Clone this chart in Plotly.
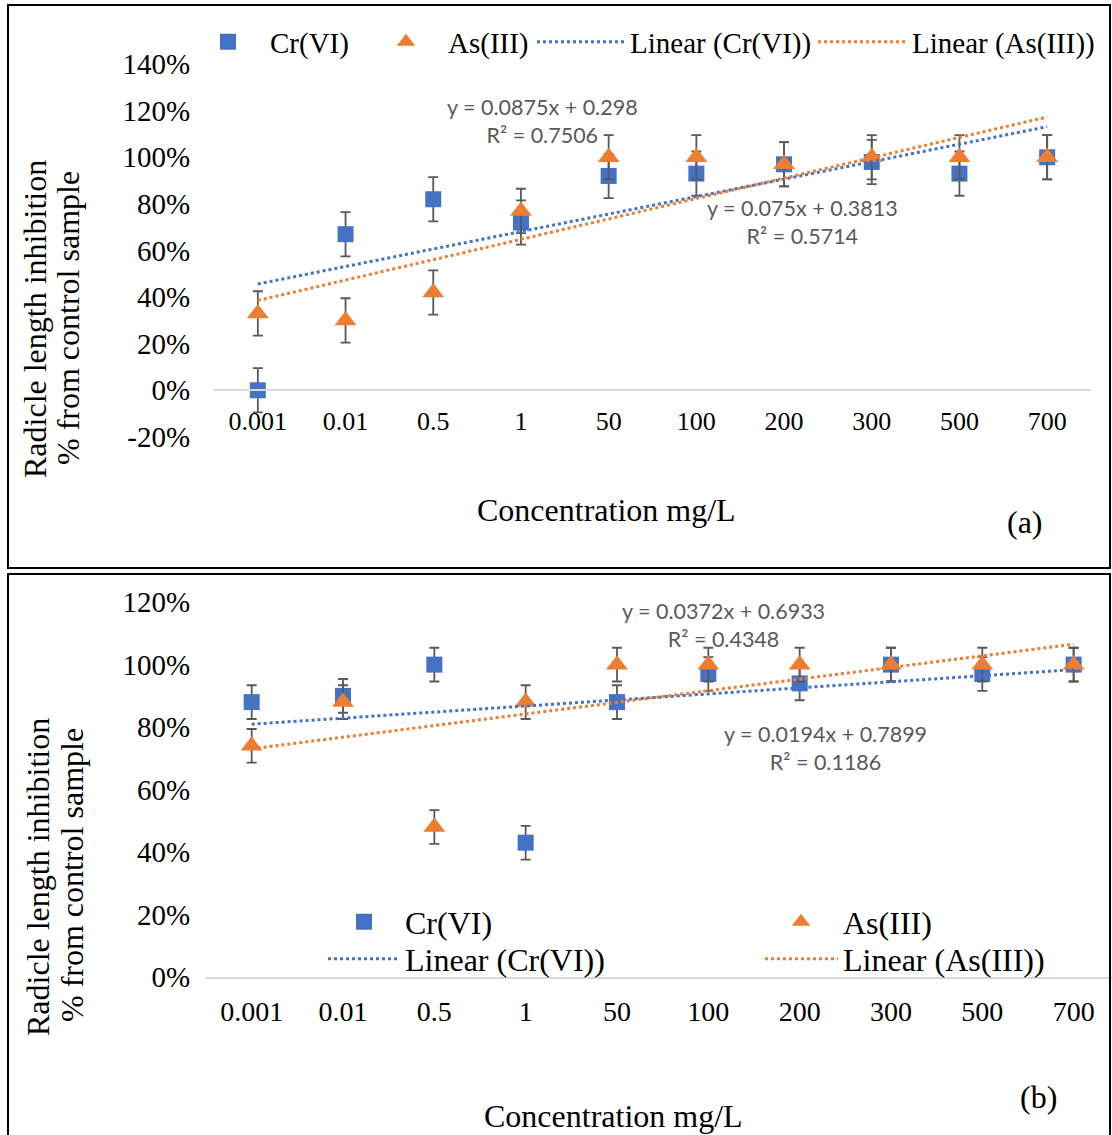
import plotly.graph_objects as go

W, H = 1112, 1135

# ---------------- data ----------------
concentrations = ["0.001", "0.01", "0.5", "1", "50", "100", "200", "300", "500", "700"]

# panel (a)
a_cr = [0.00, 0.67, 0.82, 0.72, 0.92, 0.93, 0.97, 0.98, 0.93, 1.00]
a_cr_err = [0.095, 0.095, 0.095, 0.095, 0.095, 0.095, 0.095, 0.095, 0.095, 0.095]
a_as = [0.33, 0.30, 0.42, 0.77, 1.00, 1.00, 0.97, 1.00, 1.00, 1.00]
a_as_err = [0.095, 0.095, 0.095, 0.095, 0.095, 0.095, 0.095, 0.095, 0.095, 0.095]
a_cr_fit = (0.075, 0.3813, 0.5714)     # slope, intercept, R2
a_as_fit = (0.0875, 0.298, 0.7506)

# panel (b)
b_cr = [0.88, 0.90, 1.00, 0.43, 0.88, 0.97, 0.94, 1.00, 0.97, 1.00]
b_cr_err = [0.054, 0.054, 0.054, 0.054, 0.054, 0.054, 0.054, 0.054, 0.054, 0.054]
b_as = [0.74, 0.88, 0.48, 0.88, 1.00, 1.00, 1.00, 1.00, 1.00, 1.00]
b_as_err = [0.054, 0.054, 0.054, 0.054, 0.054, 0.054, 0.054, 0.054, 0.054, 0.054]
b_cr_fit = (0.0194, 0.7899, 0.1186)
b_as_fit = (0.0372, 0.6933, 0.4348)

series_names = ["Cr(VI)", "As(III)", "Linear (Cr(VI))", "Linear (As(III))"]

a_yticks = [-0.2, 0.0, 0.2, 0.4, 0.6, 0.8, 1.0, 1.2, 1.4]
a_yticktext = ["-20%", "0%", "20%", "40%", "60%", "80%", "100%", "120%", "140%"]
b_yticks = [0.0, 0.2, 0.4, 0.6, 0.8, 1.0, 1.2]
b_yticktext = ["0%", "20%", "40%", "60%", "80%", "100%", "120%"]

BLUE = "#4472C4"
ORANGE = "#ED7D31"
ERR = "#595959"
SERIF = "Liberation Serif, Times New Roman, serif"
SANS = "Lato, Carlito, Calibri, sans-serif"


def px_x(p):
    return p / W


def px_y(p):
    return 1 - p / H


def trend(fit):
    s, b, _ = fit
    return [s * (i + 1) + b for i in range(len(concentrations))]


def eq_text(fit):
    s, b, r2 = fit
    return f"y = {s:g}x + {b:g}<br>R² = {r2:g}"


fig = go.Figure()


def add_panel(xa, ya, cr, cr_err, as_, as_err, cr_fit, as_fit, legends):
    fig.add_trace(go.Scatter(
        x=concentrations, y=cr, mode="markers", name=series_names[0],
        marker=dict(symbol="square", size=16, color=BLUE),
        error_y=dict(type="data", array=cr_err, color=ERR, thickness=1.8, width=5),
        xaxis=xa, yaxis=ya, legend=legends[0], cliponaxis=False))
    fig.add_trace(go.Scatter(
        x=concentrations, y=as_, mode="markers", name=series_names[1],
        marker=dict(symbol="triangle-up", size=19, color=ORANGE),
        error_y=dict(type="data", array=as_err, color=ERR, thickness=1.8, width=5),
        xaxis=xa, yaxis=ya, legend=legends[1], cliponaxis=False))
    fig.add_trace(go.Scatter(
        x=concentrations, y=trend(cr_fit), mode="lines", name=series_names[2],
        line=dict(color=BLUE, width=3, dash="3px,3px"),
        xaxis=xa, yaxis=ya, legend=legends[2], cliponaxis=False))
    fig.add_trace(go.Scatter(
        x=concentrations, y=trend(as_fit), mode="lines", name=series_names[3],
        line=dict(color=ORANGE, width=3, dash="3px,3px"),
        xaxis=xa, yaxis=ya, legend=legends[3], cliponaxis=False))


add_panel("x", "y", a_cr, a_cr_err, a_as, a_as_err, a_cr_fit, a_as_fit,
          ["legend", "legend2", "legend3", "legend4"])
add_panel("x2", "y2", b_cr, b_cr_err, b_as, b_as_err, b_cr_fit, b_as_fit,
          ["legend5", "legend6", "legend7", "legend8"])

# domains (pixel derived)
a_ylo, a_yhi = -0.2, 1.4
a_dom_y = [px_y(437), px_y(64)]
a_zero_pos = a_dom_y[0] + (0 - a_ylo) / (a_yhi - a_ylo) * (a_dom_y[1] - a_dom_y[0])


def legend_at(left_px, center_px, iw, size):
    return dict(
        orientation="h", x=px_x(left_px), y=px_y(center_px),
        xanchor="left", yanchor="middle",
        font=dict(family=SERIF, size=size, color="black"),
        itemwidth=iw, bgcolor="rgba(0,0,0,0)", borderwidth=0,
    )


fig.update_layout(
    width=W, height=H,
    margin=dict(l=0, r=0, t=0, b=0, pad=0, autoexpand=False),
    paper_bgcolor="white", plot_bgcolor="white",
    font=dict(family=SERIF, color="black"),
    showlegend=True,
    xaxis=dict(
        type="category", categoryorder="array", categoryarray=concentrations,
        domain=[px_x(214), px_x(1091)], range=[-0.5, 9.5],
        anchor="free", position=a_zero_pos,
        showline=True, linecolor="#D9D9D9", linewidth=2,
        showgrid=False, zeroline=False,
        ticks="outside", ticklen=7, tickcolor="rgba(0,0,0,0)",
        tickfont=dict(family=SERIF, size=26, color="black"),
    ),
    yaxis=dict(
        domain=a_dom_y, range=[a_ylo - 0.0005, a_yhi + 0.0005],
        tickvals=a_yticks, ticktext=a_yticktext,
        showgrid=False, zeroline=False, showline=False,
        ticks="outside", ticklen=17, tickcolor="rgba(0,0,0,0)",
        tickfont=dict(family=SERIF, size=29, color="black"),
    ),
    xaxis2=dict(
        type="category", categoryorder="array", categoryarray=concentrations,
        domain=[px_x(206), 1.0], range=[-0.5, 9.42],
        anchor="y2",
        showline=True, linecolor="#D9D9D9", linewidth=2,
        showgrid=False, zeroline=False,
        ticks="outside", ticklen=8, tickcolor="rgba(0,0,0,0)",
        tickfont=dict(family=SERIF, size=28, color="black"),
    ),
    yaxis2=dict(
        domain=[px_y(977), px_y(602)], range=[0, 1.2005],
        tickvals=b_yticks, ticktext=b_yticktext,
        showgrid=False, zeroline=False, showline=False,
        ticks="outside", ticklen=17, tickcolor="rgba(0,0,0,0)",
        tickfont=dict(family=SERIF, size=29, color="black"),
    ),
    legend=legend_at(186, 42, 74, 29),
    legend2=legend_at(364, 42, 74, 29),
    legend3=legend_at(532, 42, 88, 29),
    legend4=legend_at(813, 42, 89, 29),
    legend5=legend_at(323, 922, 72, 32),
    legend6=legend_at(759, 922, 74, 32),
    legend7=legend_at(323, 959, 72, 32),
    legend8=legend_at(760, 959, 73, 32),
)

EQ_FONT = dict(family=SANS, size=21.5, color="#595959")
TITLE_FONT = dict(family=SERIF, size=32, color="black")


def paper_text(px, py, text, angle=0, font=TITLE_FONT):
    return dict(x=px_x(px), y=px_y(py), xref="paper", yref="paper", text=text,
                textangle=angle, showarrow=False, xanchor="center", yanchor="middle",
                font=font)


annotations = [
    # trendline equations
    dict(x=3.24, y=1.158, xref="x", yref="y", text=eq_text(a_as_fit), showarrow=False,
         xanchor="center", yanchor="middle", font=EQ_FONT),
    dict(x=6.21, y=0.721, xref="x", yref="y", text=eq_text(a_cr_fit), showarrow=False,
         xanchor="center", yanchor="middle", font=EQ_FONT),
    dict(x=5.17, y=1.126, xref="x2", yref="y2", text=eq_text(b_as_fit), showarrow=False,
         xanchor="center", yanchor="middle", font=EQ_FONT),
    dict(x=6.28, y=0.734, xref="x2", yref="y2", text=eq_text(b_cr_fit), showarrow=False,
         xanchor="center", yanchor="middle", font=EQ_FONT),
    # axis titles
    paper_text(606, 510, "Concentration mg/L"),
    paper_text(613, 1116, "Concentration mg/L"),
    paper_text(35, 319, "Radicle length inhibition", -90),
    paper_text(68, 318, "% from control sample", -90),
    paper_text(38, 877, "Radicle length inhibition", -90),
    paper_text(72, 875, "% from control sample", -90),
    # panel labels
    paper_text(1025, 522, "(a)"),
    paper_text(1038, 1097, "(b)"),
]
fig.update_layout(annotations=annotations)

fig.update_layout(shapes=[
    dict(type="rect", xref="paper", yref="paper",
         x0=px_x(8), x1=px_x(1110), y0=px_y(568), y1=px_y(5),
         line=dict(color="black", width=2), fillcolor="rgba(0,0,0,0)"),
    dict(type="rect", xref="paper", yref="paper",
         x0=px_x(8), x1=px_x(1110), y0=px_y(1140), y1=px_y(574),
         line=dict(color="black", width=2), fillcolor="rgba(0,0,0,0)"),
])

fig.write_html("out.html")
